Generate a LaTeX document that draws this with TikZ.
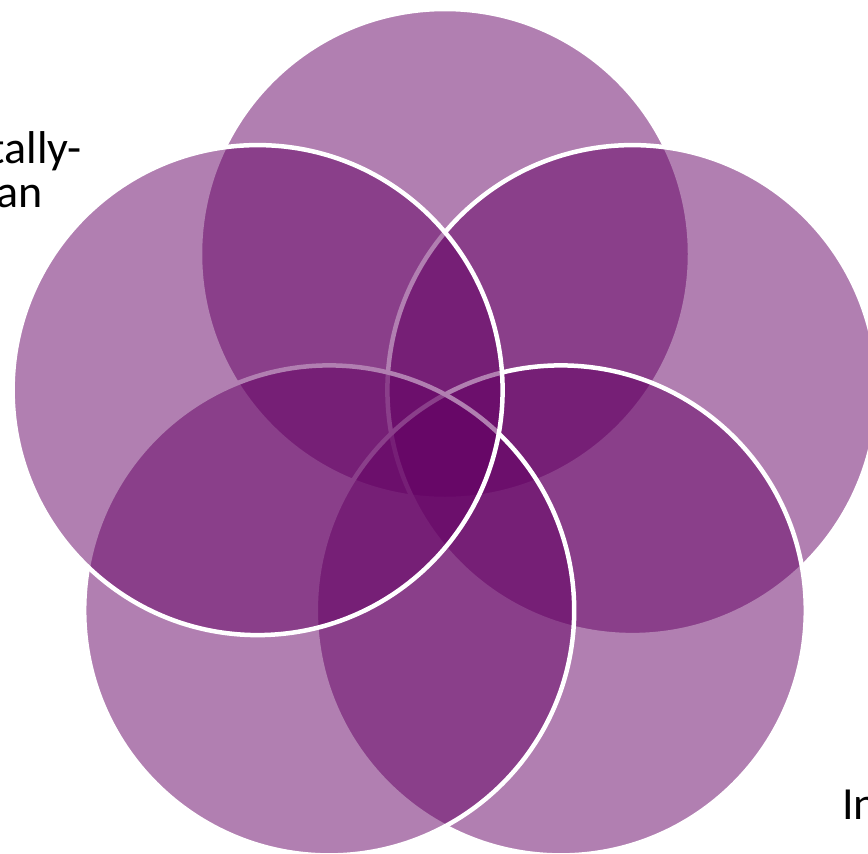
\documentclass[tikz,border=0pt]{standalone}
\usepackage{fontspec}
\setmainfont{Carlito}
\definecolor{vennc}{RGB}{100,0,100}
\begin{document}
\begin{tikzpicture}[x=1pt,y=-1pt,
  venn/.style={circle, minimum size=490pt, inner sep=0pt, draw=white, line width=4.5pt,
    fill=vennc, fill opacity=0.5, draw opacity=1},
  lbl/.style={inner sep=0pt, font=\fontsize{46pt}{50pt}\selectfont, text=black}]
\fill[white] (0,0) rectangle (868,854);
\useasboundingbox (0,0) rectangle (868,854);
\node[venn] (top) at (445,254) {};
\node[venn] (right) at (632.4,390.1) {};
\node[venn] (botright) at (560.8,610.4) {};
\node[venn] (botleft) at (329.2,610.4) {};
\node[venn] (left) at (257.6,390.1) {};
\node[lbl, anchor=base east] (t1) at (82,163) {tally-};
\node[lbl, anchor=base east] (t2) at (43,207) {an};
\node[lbl, anchor=base west] (t3) at (842,819) {In};
\end{tikzpicture}
\end{document}
